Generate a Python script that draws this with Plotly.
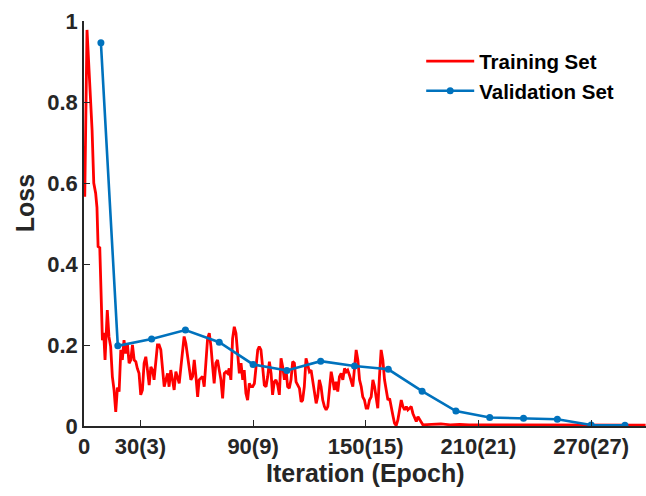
import plotly.graph_objects as go

# ---- Training set (iteration, loss) ----
train_iter_a = [0, 0.4, 1.6, 3.0, 4.3, 5.2, 6.2, 6.9, 7.5, 8.4, 9.2, 9.8, 10.5, 11.2,
                12.4, 13.3, 14.2, 15.1, 16.0, 16.9, 17.8, 18.7]
train_loss_a = [0.69, 0.566, 0.978, 0.838, 0.731, 0.60, 0.575, 0.54, 0.443, 0.44, 0.328,
                0.212, 0.23, 0.163, 0.286, 0.22, 0.196, 0.122, 0.089, 0.035, 0.095, 0.085]

train_iter_b = [19.6, 20.4, 21.3, 22.2, 23.1, 24.0, 24.9, 25.8, 26.7, 27.6,
                28.4, 29.3, 30.2, 31.1, 32.0, 32.9, 33.8, 34.7, 35.6, 36.5,
                37.3, 38.2, 39.1, 40.0, 40.9, 41.8, 42.7, 43.6, 44.5, 45.3,
                46.2, 47.1, 48.0, 48.9, 49.8, 50.7, 51.6, 52.5, 53.3, 54.2,
                55.1, 56.0, 56.9, 57.8, 58.7, 59.6, 60.5, 61.3, 62.2, 63.1,
                64.0, 64.9, 65.8, 66.7, 67.6, 68.5, 69.3, 70.2, 71.1, 72.0,
                72.9, 73.8, 74.7, 75.6, 76.5, 77.3, 78.2, 79.1, 80.0, 80.9,
                81.8, 82.7, 83.6, 84.5, 85.3, 86.2, 87.1, 88.0, 88.9, 89.8,
                90.7, 91.6, 92.5]
train_loss_b = [0.188, 0.163, 0.212, 0.179, 0.204, 0.155, 0.163, 0.200, 0.163, 0.159,
                0.142, 0.130, 0.077, 0.089, 0.155, 0.171, 0.138, 0.101, 0.146, 0.138,
                0.114, 0.155, 0.200, 0.200, 0.188, 0.142, 0.097, 0.114, 0.130, 0.097,
                0.138, 0.114, 0.089, 0.134, 0.122, 0.105, 0.146, 0.196, 0.221, 0.204,
                0.171, 0.146, 0.114, 0.122, 0.163, 0.122, 0.072, 0.114, 0.118, 0.122,
                0.097, 0.163, 0.216, 0.229, 0.196, 0.146, 0.105, 0.155, 0.163, 0.138,
                0.114, 0.068, 0.130, 0.134, 0.130, 0.142, 0.114, 0.216, 0.245, 0.229,
                0.171, 0.130, 0.155, 0.114, 0.138, 0.081, 0.064, 0.105, 0.097, 0.097,
                0.105, 0.155, 0.188]

train_iter_c = [93.3, 94.2, 95.1, 96.0, 96.9, 97.8, 98.7, 99.6, 100.4, 101.3,
                102.2, 103.1, 104.0, 104.9, 105.8, 106.7, 107.6, 108.4, 109.3, 110.2,
                111.1, 112.0, 112.9, 113.8, 114.7, 115.6, 116.4, 117.3, 118.2, 119.1,
                120.0, 120.9, 121.8, 122.7, 123.6, 124.4, 125.3, 126.2, 127.1, 128.0,
                128.9, 129.8, 130.7, 131.6, 132.4, 133.3, 134.2, 135.1, 136.0, 136.9,
                137.8, 138.7, 139.6, 140.4, 141.3, 142.2, 143.1, 144.0, 144.9, 145.8,
                146.7, 147.6, 148.4, 149.3, 150.2, 151.1, 152.0, 152.9, 153.8, 154.7,
                155.6, 156.4, 157.3, 158.2, 159.1, 160.0, 160.9, 161.8, 162.7, 163.6,
                164.4, 165.3, 166.2, 167.1, 168.0, 168.9, 169.8, 170.7, 171.6, 172.4,
                173.3, 174.2, 175.1, 176.0, 176.9, 177.8, 178.7, 179.6, 180.4]
train_loss_c = [0.196, 0.188, 0.146, 0.101, 0.097, 0.122, 0.159, 0.130, 0.077, 0.109,
                0.114, 0.101, 0.077, 0.167, 0.146, 0.114, 0.138, 0.097, 0.093, 0.114,
                0.159, 0.155, 0.109, 0.101, 0.093, 0.060, 0.064, 0.097, 0.167, 0.151,
                0.134, 0.138, 0.114, 0.081, 0.056, 0.072, 0.114, 0.097, 0.064, 0.048,
                0.040, 0.048, 0.093, 0.134, 0.114, 0.089, 0.109, 0.085, 0.122, 0.130,
                0.114, 0.142, 0.134, 0.138, 0.126, 0.109, 0.097, 0.142, 0.188, 0.163,
                0.114, 0.097, 0.072, 0.064, 0.044, 0.044, 0.064, 0.072, 0.114, 0.097,
                0.064, 0.044, 0.122, 0.188, 0.163, 0.114, 0.089, 0.064, 0.068, 0.040,
                0.027, 0.007, 0.001, 0.015, 0.040, 0.064, 0.048, 0.040, 0.048, 0.040,
                0.044, 0.048, 0.031, 0.019, 0.011, 0.023, 0.015, 0.007, 0.003]

train_iter_d = [185, 190, 195, 200, 205, 210, 220, 230, 240, 250, 260, 270, 280, 290, 299]
train_loss_d = [0.004, 0.005, 0.003, 0.004, 0.003, 0.003, 0.003, 0.003, 0.002, 0.002,
                0.002, 0.002, 0.002, 0.002, 0.002]

train_iter = train_iter_a + train_iter_b + train_iter_c + train_iter_d
train_loss = train_loss_a + train_loss_b + train_loss_c + train_loss_d

# ---- Validation set ----
val_iter = [9, 18, 36, 54, 72, 90, 108, 126, 144, 162, 180, 198, 216, 234, 252, 270, 288]
val_loss = [0.946, 0.198, 0.215, 0.237, 0.207, 0.152, 0.137, 0.160, 0.148, 0.140,
            0.086, 0.037, 0.021, 0.019, 0.0165, 0.0025, 0.002]

# ---- Axis ticks / labels ----
x_tickvals = [0, 30, 90, 150, 210, 270]
x_ticktext = ["0", "30(3)", "90(9)", "150(15)", "210(21)", "270(27)"]
y_tickvals = [0, 0.2, 0.4, 0.6, 0.8, 1]
y_ticktext = ["0", "0.2", "0.4", "0.6", "0.8", "1"]
x_title = "Iteration (Epoch)"
y_title = "Loss"

FONT = "Liberation Sans, Arial, sans-serif"
AX = "#262626"

fig = go.Figure()
fig.add_trace(go.Scatter(x=train_iter, y=train_loss, mode="lines", name="Training Set",
                         line=dict(color="#FF0000", width=2.8)))
fig.add_trace(go.Scatter(x=val_iter, y=val_loss, mode="lines+markers", name="Validation Set",
                         line=dict(color="#0072BD", width=2.6),
                         marker=dict(color="#0072BD", size=7)))

title_font = dict(family=FONT, size=25, color=AX, weight="bold")
fig.add_annotation(text=x_title, xref="paper", yref="paper", x=0.5, y=-0.117,
                   xanchor="center", yanchor="middle", showarrow=False, font=title_font)
fig.add_annotation(text=y_title, xref="paper", yref="paper", x=-0.105, y=0.55,
                   xanchor="center", yanchor="middle", textangle=-90,
                   showarrow=False, font=title_font)

fig.update_layout(
    width=646, height=496,
    margin=dict(l=84, r=0, t=21, b=70),
    paper_bgcolor="white", plot_bgcolor="white",
    font=dict(family=FONT, color=AX, size=22, weight="bold"),
    showlegend=True,
    legend=dict(x=0.6, y=0.95, xanchor="left", yanchor="top",
                bgcolor="rgba(0,0,0,0)", borderwidth=0, itemwidth=48,
                font=dict(family=FONT, size=20.5, color="black", weight="bold"),
                tracegroupgap=0),
    xaxis=dict(range=[0, 299.2], tickvals=x_tickvals, ticktext=x_ticktext,
               showline=True, linecolor=AX, linewidth=1.5, ticks="inside",
               ticklen=6, tickcolor=AX, tickwidth=1.2, showgrid=False, zeroline=False,
               tickfont=dict(family=FONT, size=22, color=AX, weight="bold")),
    yaxis=dict(range=[0, 1], tickvals=y_tickvals, ticktext=y_ticktext,
               showline=True, linecolor=AX, linewidth=1.5, ticks="inside",
               ticklen=6, tickcolor=AX, tickwidth=1.2, showgrid=False, zeroline=False,
               tickfont=dict(family=FONT, size=22, color=AX, weight="bold")),
)

fig.write_html("out.html")
